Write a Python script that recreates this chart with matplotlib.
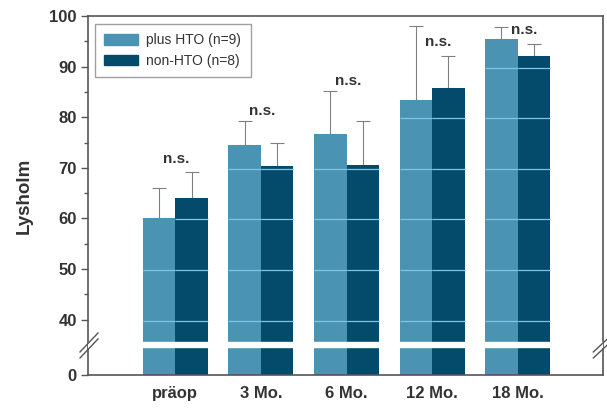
import matplotlib
matplotlib.use("Agg")
import matplotlib.pyplot as plt
import matplotlib.patches as mpatches
import numpy as np

plt.rcParams['font.family'] = ['Liberation Sans', 'DejaVu Sans']

# data
groups = ["präop", "3 Mo.", "6 Mo.", "12 Mo.", "18 Mo."]
plus_hto = [60.0, 74.5, 76.6, 83.4, 95.4]
plus_hto_err = [6.1, 4.7, 8.5, 14.6, 2.4]
non_hto = [64.0, 70.3, 70.5, 85.7, 92.1]
non_hto_err = [5.1, 4.7, 8.7, 6.4, 2.4]
ns_x = [0.01, 1.02, 2.02, 3.07, 4.07]
ns_y = [71.7, 81.2, 87.1, 94.9, 97.2]
labels = ["plus HTO (n=9)", "non-HTO (n=8)"]

light = "#4b93b3"
dark = "#034a6b"
grey = "#555555"
txt = "#333333"

# axis break: the "0" sits at y_base on the drawn axis
y_base = 29.1
brk_lo, brk_hi = 34.6, 35.6

fig = plt.figure(figsize=(6.07, 4.08), dpi=100)
ax = fig.add_axes([0.145, 0.081, 0.849, 0.88])

x = np.arange(len(groups))
w = 0.38

b1 = ax.bar(x - w/2, np.array(plus_hto) - y_base, w, bottom=y_base, color=light, zorder=2)
b2 = ax.bar(x + w/2, np.array(non_hto) - y_base, w, bottom=y_base, color=dark, zorder=2)

ax.errorbar(x - w/2, plus_hto, yerr=[np.zeros(len(x)), plus_hto_err], fmt='none',
            ecolor="#808080", elinewidth=0.8, capsize=5, capthick=0.8, zorder=1)
ax.errorbar(x + w/2, non_hto, yerr=[np.zeros(len(x)), non_hto_err], fmt='none',
            ecolor="#808080", elinewidth=0.8, capsize=5, capthick=0.8, zorder=1)

# light lines across bars
for bars in (b1, b2):
    for r in bars:
        top = r.get_y() + r.get_height()
        for lv in range(40, 100, 10):
            if lv < top:
                ax.hlines(lv - 0.2, r.get_x(), r.get_x() + r.get_width(),
                          color="#7cc8e2", lw=0.9, zorder=3)

ax.axhspan(brk_lo, brk_hi, color="white", zorder=4)

for xi, yi in zip(ns_x, ns_y):
    ax.text(xi, yi, "n.s.", ha="center", va="center", fontsize=11,
            fontweight="bold", color=txt, zorder=5)

ax.set_xlim(-1.02, 5.0)
ax.set_ylim(y_base, 100)
ax.set_yticks([y_base, 40, 50, 60, 70, 80, 90, 100])
ax.set_yticklabels(["0", "40", "50", "60", "70", "80", "90", "100"])
ax.set_yticks(np.arange(45, 100, 10), minor=True)
ax.set_xticks(x)
ax.set_xticklabels(groups)
ax.tick_params(axis='x', length=0, pad=8)
ax.tick_params(axis='y', which='major', length=5, width=1, color=grey, pad=3)
ax.tick_params(axis='y', which='minor', length=3, width=1, color=grey)
for lab in ax.get_xticklabels() + ax.get_yticklabels():
    lab.set_fontweight("bold")
    lab.set_fontsize(12)
    lab.set_color(txt)
for sp in ax.spines.values():
    sp.set_color(grey)
    sp.set_linewidth(1.2)

ax.set_ylabel("Lysholm", fontsize=13.5, fontweight="bold", color=txt, labelpad=12)

# break marks
def brk(px0, py0, px1, py1):
    x0 = (px0 - 88) / 515.0
    x1 = (px1 - 88) / 515.0
    y0 = (375 - py0) / 359.0
    y1 = (375 - py1) / 359.0
    ax.plot([x0, x1], [y0, y1], transform=ax.transAxes, color=grey, lw=1.0,
            clip_on=False, zorder=6)

brk(80, 352, 98, 333)
brk(80, 358, 98, 339)
brk(593, 352, 607, 339)
brk(593, 358, 607, 345)

handles = [mpatches.Patch(color=light), mpatches.Patch(color=dark)]
leg = ax.legend(handles, labels, loc="upper left", bbox_to_anchor=(0.005, 0.99),
                fancybox=False, edgecolor="#888888", fontsize=10,
                handlelength=2.4, handleheight=0.8, handletextpad=0.6,
                borderpad=0.7, labelspacing=0.45, borderaxespad=0.3)
leg.get_frame().set_linewidth(1.0)
for t in leg.get_texts():
    t.set_color(txt)

fig.savefig("out.png", dpi=100)
